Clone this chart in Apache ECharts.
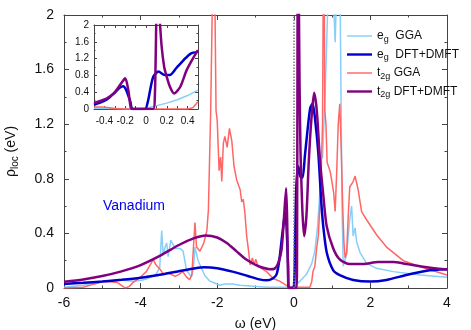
<!DOCTYPE html>
<html>
<head>
<meta charset="utf-8">
<script src="https://cdn.jsdelivr.net/npm/echarts@6/dist/echarts.min.js"></script>
<style>
  html, body { margin: 0; padding: 0; background: #fff; }
  #chart { width: 471px; height: 330px; }
</style>
</head>
<body>
<div id="chart"></div>
<script>
// 主图数据 [omega, rho]
const egGGA = [[-6,0.005],[-5.5,0.02],[-5.0,0.05],[-4.6,0.06],[-4.2,0.05],[-4.0,0.055],[-3.8,0.07],[-3.6,0.1],[-3.5,0.15],[-3.45,0.42],[-3.41,0.24],[-3.36,0.3],[-3.32,0.33],[-3.28,0.23],[-3.21,0.35],[-3.1,0.29],[-2.97,0.29],[-2.89,0.27],[-2.8,0.13],[-2.67,0.08],[-2.62,0.15],[-2.58,0.30],[-2.5,0.2],[-2.45,0.17],[-2.32,0.09],[-2.19,0.05],[-2.1,0.04],[-1.93,0.02],[-1.8,0.03],[-1.6,0.03],[-1.4,0.02],[-1.14,0.015],[-0.7,0.005],[-0.1,0.005],[0.0,0.01],[0.16,0.05],[0.33,0.1],[0.47,0.18],[0.55,0.27],[0.62,0.45],[0.68,0.7],[0.72,1.0],[0.75,0.95],[0.8,1.3],[0.85,1.7],[0.9,2.2],[0.98,2.4],[1.02,2.2],[1.08,1.8],[1.13,2.3],[1.2,2.4],[1.23,1.5],[1.26,0.6],[1.29,0.16],[1.33,0.2],[1.38,0.25],[1.46,0.5],[1.51,0.6],[1.55,0.38],[1.6,0.44],[1.64,0.34],[1.73,0.26],[1.9,0.18],[2.16,0.144],[2.6,0.12],[3.3,0.095],[4,0.078]];
const egDMFT = [[-6,0.03],[-5.5,0.038],[-5.0,0.048],[-4.5,0.06],[-4.0,0.075],[-3.5,0.097],[-3.0,0.123],[-2.6,0.143],[-2.35,0.152],[-2.0,0.145],[-1.6,0.12],[-1.2,0.088],[-0.9,0.063],[-0.7,0.056],[-0.55,0.07],[-0.45,0.1],[-0.38,0.2],[-0.31,0.37],[-0.25,0.51],[-0.22,0.55],[-0.19,0.45],[-0.15,0.17],[-0.13,0],[-0.01,0],[0.04,0.45],[0.07,0.77],[0.12,0.89],[0.18,0.81],[0.23,0.81],[0.29,0.97],[0.36,1.16],[0.43,1.32],[0.49,1.35],[0.55,1.25],[0.64,0.99],[0.72,0.62],[0.77,0.45],[0.86,0.26],[1.03,0.13],[1.2,0.095],[1.55,0.059],[2.0,0.047],[2.42,0.059],[2.94,0.095],[3.47,0.127],[4,0.137]];
const t2gGGA = [[-6,0],[-5.5,0.005],[-5.2,0.03],[-5.0,0.045],[-4.8,0.046],[-4.6,0.04],[-4.5,0.02],[-4.4,0.0],[-4.3,0.01],[-4.2,0.04],[-4.0,0.08],[-3.85,0.12],[-3.75,0.17],[-3.67,0.21],[-3.6,0.17],[-3.5,0.14],[-3.4,0.1],[-3.3,0.11],[-3.2,0.1],[-3.1,0.085],[-3.0,0.1],[-2.9,0.12],[-2.8,0.08],[-2.72,0.06],[-2.66,0.1],[-2.62,0.3],[-2.58,0.48],[-2.54,0.3],[-2.45,0.27],[-2.35,0.33],[-2.27,0.42],[-2.23,0.57],[-2.17,1.3],[-2.12,2.2],[-2.09,2.6],[-2.06,2.1],[-2.03,1.3],[-2.0,1.23],[-1.95,0.86],[-1.91,0.96],[-1.88,0.78],[-1.84,1.06],[-1.8,1.11],[-1.74,1.03],[-1.68,1.17],[-1.62,1.08],[-1.56,0.89],[-1.49,0.79],[-1.4,0.72],[-1.36,0.63],[-1.32,0.65],[-1.28,0.56],[-1.23,0.38],[-1.18,0.27],[-1.14,0.17],[-1.08,0.22],[-1.04,0.17],[-0.99,0.21],[-0.95,0.17],[-0.88,0.15],[-0.71,0.12],[-0.54,0.07],[-0.37,0.05],[-0.19,0.02],[-0.1,0.005],[0.42,0.005],[0.47,0.05],[0.5,0.12],[0.55,0.16],[0.6,0.3],[0.64,0.38],[0.68,0.6],[0.72,0.9],[0.75,1.2],[0.77,2.2],[0.79,2.4],[0.81,1.3],[0.84,1.2],[0.87,0.92],[0.92,0.88],[0.96,0.84],[1.0,0.85],[1.04,0.7],[1.08,0.56],[1.12,0.85],[1.16,1.2],[1.2,1.35],[1.24,1.0],[1.28,0.57],[1.31,0.33],[1.34,0.22],[1.38,0.26],[1.42,0.52],[1.46,0.74],[1.55,0.78],[1.6,0.82],[1.68,0.72],[1.77,0.56],[1.9,0.5],[2.16,0.39],[2.42,0.3],[2.86,0.2],[3.3,0.156],[4,0.095]];
const t2gDMFT = [[-6,0.046],[-5.5,0.063],[-5.0,0.088],[-4.5,0.122],[-4.0,0.168],[-3.5,0.235],[-3.0,0.315],[-2.6,0.365],[-2.3,0.385],[-2.0,0.37],[-1.75,0.33],[-1.5,0.27],[-1.25,0.21],[-1.0,0.17],[-0.8,0.148],[-0.62,0.137],[-0.5,0.142],[-0.41,0.18],[-0.32,0.28],[-0.26,0.5],[-0.2,0.73],[-0.17,0.45],[-0.148,0.05],[-0.13,0],[0.07,0],[0.085,0.3],[0.095,1.5],[0.1,2.2],[0.115,2.8],[0.13,2.2],[0.15,1.5],[0.175,1.0],[0.2,0.76],[0.23,0.53],[0.27,0.38],[0.33,0.53],[0.39,0.92],[0.46,1.24],[0.53,1.43],[0.6,1.30],[0.68,0.95],[0.77,0.68],[0.86,0.45],[1.03,0.29],[1.2,0.21],[1.46,0.175],[1.81,0.175],[2.2,0.19],[2.6,0.19],[2.86,0.18],[3.38,0.156],[4,0.135]];

// 插图数据 (-0.5 ~ 0.5)
const insetEgGGA = [[-0.5,0.02],[-0.3,0.01],[-0.1,0.0],[0,0.02],[0.1,0.08],[0.2,0.14],[0.3,0.22],[0.4,0.32],[0.5,0.45]];
const insetEgDMFT = [[-0.5,0.10],[-0.44,0.15],[-0.38,0.22],[-0.31,0.37],[-0.25,0.51],[-0.22,0.54],[-0.19,0.45],[-0.15,0.17],[-0.13,0],[-0.01,0],[0.02,0.2],[0.04,0.45],[0.07,0.77],[0.12,0.89],[0.18,0.81],[0.23,0.81],[0.29,0.97],[0.36,1.16],[0.43,1.32],[0.5,1.36]];
const insetT2gGGA = [[-0.5,0.05],[-0.42,0.05],[-0.35,0.03],[-0.3,0.01],[-0.2,0.0],[0.4,0.0],[0.45,0.03],[0.5,0.17]];
const insetT2gDMFT = [[-0.5,0.14],[-0.44,0.19],[-0.38,0.25],[-0.31,0.37],[-0.25,0.57],[-0.2,0.73],[-0.17,0.45],[-0.148,0.05],[-0.13,0],[0.07,0],[0.085,0.3],[0.095,1.5],[0.1,2.2],[0.115,2.8],[0.13,2.2],[0.15,1.5],[0.175,1.0],[0.2,0.76],[0.23,0.53],[0.27,0.37],[0.33,0.53],[0.39,0.92],[0.46,1.24],[0.5,1.40]];

const insetXTicks = [-0.4, -0.2, 0, 0.2, 0.4];
const insetXMinor = [-0.4, -0.3, -0.2, -0.1, 0, 0.1, 0.2, 0.3, 0.4];

const seriesNames = ['egGGA', 'egDMFT', 't2gGGA', 't2gDMFT'];
const legendText = {
    egGGA: '{t|e}{s|g}{t|  GGA}',
    egDMFT: '{t|e}{s|g}{t|  DFT+DMFT}',
    t2gGGA: '{t|t}{s|2g}{t| GGA}',
    t2gDMFT: '{t|t}{s|2g}{t| DFT+DMFT}'
};
const colors = { egGGA: '#87cefa', egDMFT: '#0000cd', t2gGGA: '#ff6666', t2gDMFT: '#800080' };

const FONT = 'Liberation Sans';
const axisColor = '#444';

function frameAxes(gridIndex, min, max, isX, opts) {
    // 四边框: 主轴 + 对侧镜像轴
    const base = {
        type: 'value', gridIndex, min, max,
        axisLine: { show: true, onZero: false, lineStyle: { color: axisColor, width: 1 } },
        axisTick: { show: true, inside: true, length: opts.tickLen, lineStyle: { color: axisColor } },
        minorTick: { show: true, splitNumber: 2, length: opts.tickLen / 2, lineStyle: { color: axisColor } },
        splitLine: { show: false },
        zlevel: opts.zlevel
    };
    const main = Object.assign({}, base, {
        position: isX ? 'bottom' : 'left',
        axisLabel: { color: '#111', fontFamily: FONT, fontSize: opts.fontSize, margin: opts.margin }
    }, opts.extra || {});
    const mirror = Object.assign({}, base, {
        position: isX ? 'top' : 'right',
        axisLabel: { show: false }
    }, opts.mirrorExtra || {});
    return [main, mirror];
}

const chart = echarts.init(document.getElementById('chart'), null, { renderer: 'canvas' });

const mainX = frameAxes(0, -6, 4, true, {
    tickLen: 5, fontSize: 14, margin: 8, zlevel: 0,
    extra: {
        interval: 2,
        name: 'ω (eV)', nameLocation: 'middle', nameGap: 29,
        nameTextStyle: { color: '#111', fontFamily: FONT, fontSize: 14 }
    },
    mirrorExtra: { interval: 2 }
});
const mainY = frameAxes(0, 0, 2, false, {
    tickLen: 5, fontSize: 14, margin: 10, zlevel: 0,
    extra: {
        interval: 0.4,
        name: '{r|ρ}{s|loc}{r| (eV)}', nameLocation: 'middle', nameGap: 44, nameRotate: 90,
        nameTextStyle: {
            color: '#111', fontFamily: FONT,
            rich: { r: { fontSize: 14, fontFamily: FONT, color: '#111' }, s: { fontSize: 10, fontFamily: FONT, color: '#111', padding: [8, 0, 0, 0] } }
        }
    },
    mirrorExtra: { interval: 0.4 }
});
const insetTick = { show: true, inside: true, length: 3, customValues: insetXMinor, lineStyle: { color: axisColor } };
const insetX = frameAxes(1, -0.5, 0.5, true, {
    tickLen: 3, fontSize: 10, margin: 7, zlevel: 1,
    extra: {
        axisLabel: { customValues: insetXTicks, color: '#111', fontFamily: FONT, fontSize: 10, margin: 7 },
        axisTick: insetTick,
        minorTick: { show: false }
    },
    mirrorExtra: { axisTick: insetTick, minorTick: { show: false } }
});
const insetY = frameAxes(1, 0, 2, false, {
    tickLen: 3, fontSize: 10, margin: 5, zlevel: 1,
    extra: { interval: 0.4 },
    mirrorExtra: { interval: 0.4 }
});

function lineSeries(name, data, xi, yi, zlevel, extra) {
    const thick = name.indexOf('DMFT') >= 0;
    return Object.assign({
        name, type: 'line', data,
        xAxisIndex: xi, yAxisIndex: yi,
        symbol: 'none', clip: true, zlevel,
        smooth: thick ? 0.25 : false,
        lineStyle: { color: colors[name], width: thick ? 2.5 : 1.5 },
        itemStyle: { color: colors[name] },
        z: thick ? 3 : 2,
        animation: false
    }, extra || {});
}

// 图例图标: 细线/粗线
const thinIcon = 'path://M0,0H26V1.5H0Z';
const thickIcon = 'path://M0,0H26V2.5H0Z';

const option = {
    animation: false,
    backgroundColor: '#fff',
    grid: [
        { left: 64, right: 24, top: 15, bottom: 42, outerBoundsMode: 'none', containLabel: false },
        { left: 94, top: 25, width: 104, height: 84, outerBoundsMode: 'none', containLabel: false, show: true, backgroundColor: '#fff', borderWidth: 0, zlevel: 1 }
    ],
    legend: {
        orient: 'vertical', left: 342, top: 25,
        itemWidth: 25, itemHeight: 12, itemGap: 4.5,
        data: seriesNames.map(n => ({ name: n, icon: n.indexOf('DMFT') >= 0 ? thickIcon : thinIcon })),
        formatter: name => legendText[name],
        textStyle: {
            color: '#111', fontFamily: FONT, fontSize: 12,
            rich: {
                t: { fontSize: 12, fontFamily: FONT, color: '#111' },
                s: { fontSize: 9, fontFamily: FONT, color: '#111', padding: [7, 0, 0, 0] }
            }
        }
    },
    xAxis: [mainX[0], mainX[1], insetX[0], insetX[1]],
    yAxis: [mainY[0], mainY[1], insetY[0], insetY[1]],
    graphic: [{
        type: 'text', left: 103, top: 199,
        style: { text: 'Vanadium', fill: '#0000ee', font: '14px "Liberation Sans"' }
    }],
    series: [
        lineSeries('egGGA', egGGA, 0, 0, 0, {
            markLine: {
                silent: true, symbol: 'none', label: { show: false },
                lineStyle: { color: '#777', type: 'dotted', width: 1.5 },
                data: [{ xAxis: 0 }]
            }
        }),
        lineSeries('t2gGGA', t2gGGA, 0, 0, 0),
        lineSeries('egDMFT', egDMFT, 0, 0, 0),
        lineSeries('t2gDMFT', t2gDMFT, 0, 0, 0),
        lineSeries('egGGA', insetEgGGA, 2, 2, 1, {
            markLine: {
                silent: true, symbol: 'none', label: { show: false },
                lineStyle: { color: '#222', type: 'dashed', width: 0.8 },
                data: [{ xAxis: 0 }]
            }
        }),
        lineSeries('t2gGGA', insetT2gGGA, 2, 2, 1),
        lineSeries('egDMFT', insetEgDMFT, 2, 2, 1),
        lineSeries('t2gDMFT', insetT2gDMFT, 2, 2, 1)
    ]
};

chart.setOption(option);
</script>
</body>
</html>
